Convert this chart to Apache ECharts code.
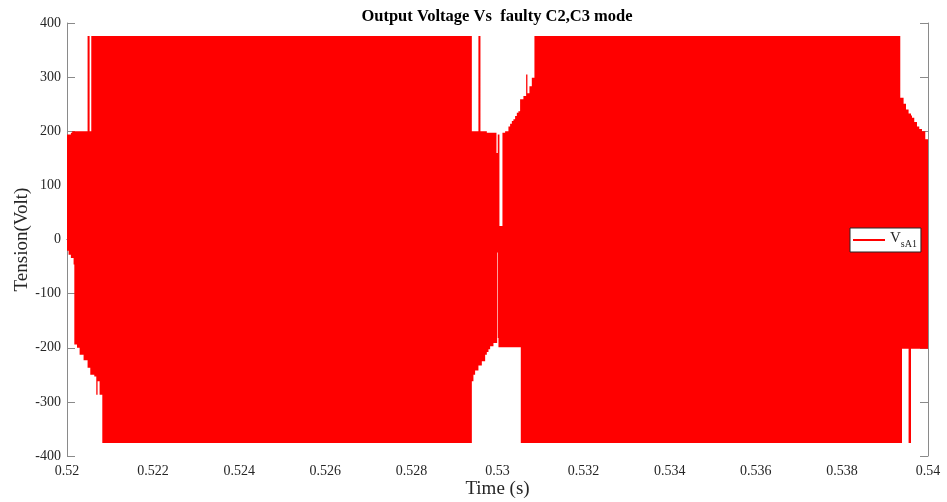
<!DOCTYPE html>
<html>
<head>
<meta charset="utf-8">
<script src="https://cdn.jsdelivr.net/npm/echarts@6/dist/echarts.min.js"></script>
<style>
  html, body { margin: 0; padding: 0; background: #fff; }
  #chart { width: 947px; height: 502px; }
</style>
</head>
<body>
<div id="chart"></div>
<script>
// envelope of the switching waveform
// each segment starts at segStart[i] and runs to the next start (last one to 0.54 s)
const segStart = [
  0.52000, 0.520037, 0.52009, 0.52012, 0.520153, 0.52017, 0.520232, 0.520293, 0.520385,
  0.520478, 0.520525, 0.520541, 0.520564, 0.520634, 0.52068, 0.52071, 0.520757, 0.52082,
  0.529404, 0.529441, 0.52948, 0.529557, 0.529604, 0.529636, 0.529713, 0.529752, 0.52979,
  0.529829, 0.529906, 0.529976, 0.529992, 0.530006, 0.530022, 0.530045, 0.530115, 0.530177,
  0.530254, 0.530293, 0.530333, 0.53037, 0.530409, 0.530449, 0.530486, 0.530525, 0.530541,
  0.530602, 0.530665, 0.530695, 0.530742, 0.530797, 0.530858,
  0.539356, 0.539396, 0.539433, 0.539489, 0.539549, 0.539605, 0.539628, 0.539681, 0.539744,
  0.539797, 0.53986, 0.539937
]
const segEnd = 0.54
const upperEnv = [
  194, 194, 197, 200, 200, 200, 200, 200, 200,
  376, 200, 200, 376, 376, 376, 376, 376, 376,
  200, 200, 200, 376, 200, 200, 200, 197, 197,
  197, 197, 160, 160, 194, 194, 25, 197, 200,
  209, 214, 219, 222, 228, 234, 237, 259, 259,
  265, 305, 270, 283, 299, 376,
  262, 262, 251, 240, 233, 229, 225, 217, 209,
  204, 200, 185
]
const lowerEnv = [
  -21, -28, -34, -34, -46, -194, -200, -213, -223,
  -237, -237, -250, -250, -253, -287, -262, -287, -376,
  -262, -250, -242, -233, -233, -225, -213, -208, -203,
  -197, -191, -191, -24, -182, -199, -199, -199, -199,
  -199, -199, -199, -199, -199, -199, -199, -199, -376,
  -376, -376, -376, -376, -376, -376,
  -376, -202, -202, -202, -376, -202, -202, -202, -202,
  -202, -202, -202
]
const yTicks = [-400, -300, -200, -100, 0, 100, 200, 300, 400]

const serif = 'Liberation Serif'
const txt = '#262626'
const axisGrey = '#8a8a8a'

const segData = segStart.map((t, i) => [
  t, i < segStart.length - 1 ? segStart[i + 1] : segEnd, lowerEnv[i], upperEnv[i]
])

const chart = echarts.init(document.getElementById('chart'))

// whole envelope as one polygon so neighbouring segments leave no seams
const renderEnvelope = (params, api) => {
  if (params.dataIndex !== 0) return null
  const pts = []
  segData.forEach(d => {
    pts.push(api.coord([d[0], d[3]]))
    pts.push(api.coord([d[1], d[3]]))
  })
  for (let i = segData.length - 1; i >= 0; i--) {
    const d = segData[i]
    pts.push(api.coord([d[1], d[2]]))
    pts.push(api.coord([d[0], d[2]]))
  }
  return {
    type: 'polygon',
    shape: { points: pts },
    style: { fill: '#ff0000' }
  }
}

const option = {
  animation: false,
  backgroundColor: '#fff',
  title: {
    text: 'Output Voltage Vs  faulty C2,C3 mode',
    left: 492,
    textAlign: 'center',
    top: 3,
    textStyle: { fontFamily: serif, fontWeight: 'bold', fontSize: 16.5, color: '#000' }
  },
  grid: { left: 67, right: 19, top: 23, bottom: 46, outerBoundsMode: 'none' },
  legend: {
    data: [{ name: 'VsA1', icon: 'rect' }],
    left: 850,
    top: 228,
    itemWidth: 32,
    itemHeight: 2,
    itemGap: 4,
    padding: [3, 4, 3, 3],
    backgroundColor: '#fff',
    borderColor: '#262626',
    borderWidth: 1,
    borderRadius: 0,
    formatter: () => '{v|V}{s|sA1}',
    textStyle: {
      fontFamily: serif,
      color: txt,
      rich: {
        v: { fontFamily: serif, fontSize: 15, color: txt, lineHeight: 18, verticalAlign: 'top' },
        s: { fontFamily: serif, fontSize: 10, color: txt, lineHeight: 18, verticalAlign: 'bottom', padding: [6, 0, 0, 0] }
      }
    }
  },
  xAxis: [
    {
      type: 'value',
      min: 0.52,
      max: 0.54,
      interval: 0.002,
      name: 'Time (s)',
      nameLocation: 'middle',
      nameGap: 24,
      nameMoveOverlap: false,
      nameTextStyle: { fontFamily: serif, fontSize: 19, color: txt },
      axisLine: { lineStyle: { color: axisGrey } },
      axisTick: { inside: true, length: 8, lineStyle: { color: axisGrey } },
      axisLabel: {
        margin: 8,
        fontFamily: serif,
        fontSize: 14,
        color: txt,
        formatter: v => String(parseFloat(v.toFixed(3)))
      },
      splitLine: { show: false }
    },
    {
      type: 'value',
      position: 'top',
      min: 0.52,
      max: 0.54,
      interval: 0.002,
      axisLine: { lineStyle: { color: axisGrey } },
      axisTick: { inside: true, length: 8, lineStyle: { color: axisGrey } },
      axisLabel: { show: false },
      splitLine: { show: false }
    }
  ],
  yAxis: [
    {
      type: 'value',
      min: yTicks[0],
      max: yTicks[yTicks.length - 1],
      interval: 100,
      name: 'Tension(Volt)',
      nameLocation: 'middle',
      nameGap: 35,
      nameMoveOverlap: false,
      nameTextStyle: { fontFamily: serif, fontSize: 19, color: txt },
      axisLine: { show: true, lineStyle: { color: axisGrey } },
      axisTick: { show: true, inside: true, length: 8, lineStyle: { color: axisGrey } },
      axisLabel: { margin: 6, fontFamily: serif, fontSize: 14, color: txt },
      splitLine: { show: false }
    },
    {
      type: 'value',
      position: 'right',
      min: yTicks[0],
      max: yTicks[yTicks.length - 1],
      interval: 100,
      axisLine: { show: true, lineStyle: { color: axisGrey } },
      axisTick: { show: true, inside: true, length: 8, lineStyle: { color: axisGrey } },
      axisLabel: { show: false },
      splitLine: { show: false }
    }
  ],
  series: [
    {
      name: 'VsA1',
      type: 'custom',
      xAxisIndex: 0,
      yAxisIndex: 0,
      itemStyle: { color: '#ff0000' },
      encode: { x: [0, 1], y: [2, 3] },
      data: segData,
      renderItem: renderEnvelope
    }
  ]
}

chart.setOption(option)
</script>
</body>
</html>
